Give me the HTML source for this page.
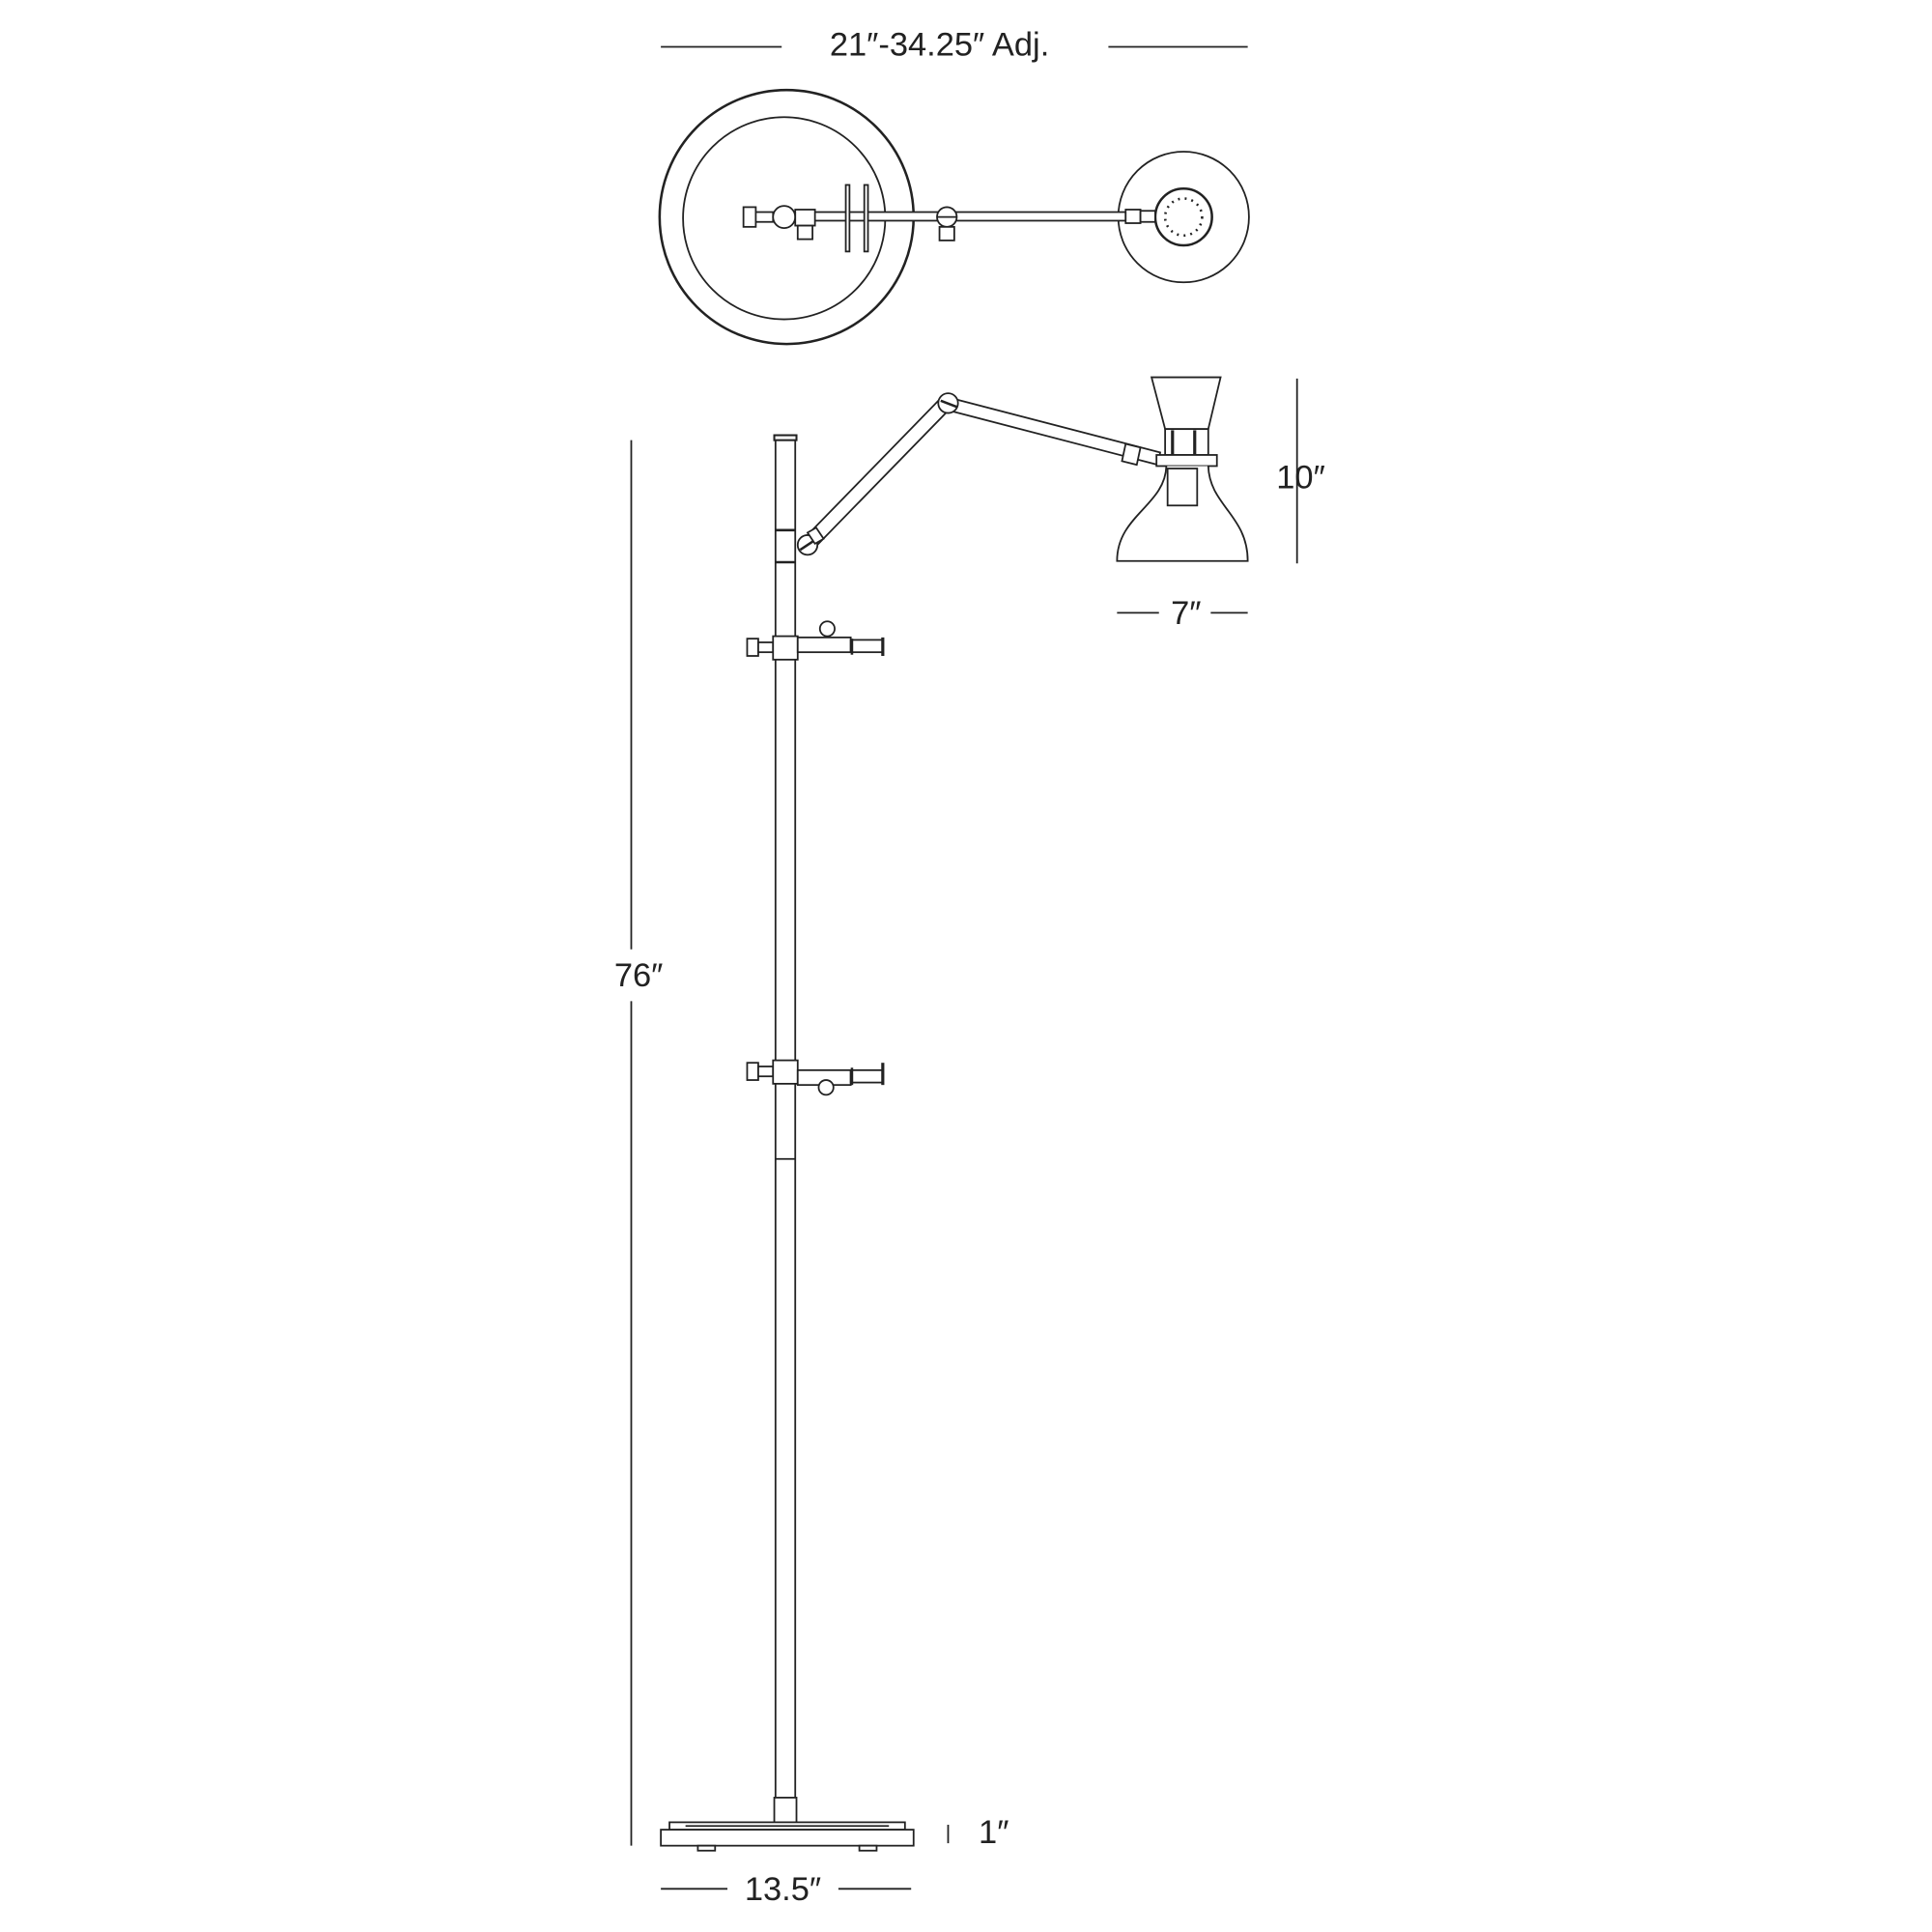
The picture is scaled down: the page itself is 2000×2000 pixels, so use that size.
<!DOCTYPE html>
<html><head><meta charset="utf-8"><style>html,body{margin:0;padding:0;background:#fff}svg{display:block}</style></head>
<body>
<svg width="2000" height="2000" viewBox="0 0 1567 1567" xmlns="http://www.w3.org/2000/svg" fill="none" stroke="#222" stroke-width="1.4">
<g font-family="Liberation Sans, sans-serif" font-size="27" fill="#222" stroke="none" text-anchor="middle">
<text x="762" y="45">21″-34.25″ Adj.</text>
<text x="518" y="800">76″</text>
<text x="1055" y="396">10″</text>
<text x="962" y="506">7″</text>
<text x="806" y="1495">1″</text>
<text x="635" y="1541">13.5″</text>
</g>
<line x1="536" y1="38" x2="634" y2="38"/><line x1="899" y1="38" x2="1012" y2="38"/>
<line x1="512" y1="357" x2="512" y2="770"/><line x1="512" y1="812" x2="512" y2="1497"/>
<line x1="1052" y1="307" x2="1052" y2="457"/>
<line x1="906" y1="497" x2="940" y2="497"/><line x1="982" y1="497" x2="1012" y2="497"/>
<line x1="769" y1="1480" x2="769" y2="1495"/>
<line x1="536" y1="1532" x2="590" y2="1532"/><line x1="680" y1="1532" x2="739" y2="1532"/>

<circle cx="638" cy="176" r="103" stroke-width="2"/>
<circle cx="636" cy="177" r="82"/>
<circle cx="960" cy="176" r="53"/>
<circle cx="960" cy="176" r="23" stroke-width="2"/>
<circle cx="960" cy="176" r="15" stroke-dasharray="1.5 4" stroke-width="2"/>
<rect x="660" y="172" width="253" height="7" fill="#fff"/>
<rect x="913" y="170" width="12" height="11" fill="#fff"/>
<rect x="925" y="171" width="12" height="9" fill="#fff"/>
<rect x="686" y="150" width="3" height="54" fill="#fff"/>
<rect x="701" y="150" width="3" height="54" fill="#fff"/>
<rect x="603" y="168" width="10" height="16" fill="#fff"/>
<rect x="613" y="172" width="14" height="8" fill="#fff"/>
<circle cx="636" cy="176" r="9" fill="#fff"/>
<rect x="645" y="170" width="16" height="13" fill="#fff"/>
<rect x="647" y="183" width="12" height="11" fill="#fff"/>
<circle cx="768" cy="176" r="8" fill="#fff"/>
<line x1="760" y1="176" x2="776" y2="176"/>
<rect x="762" y="184" width="12" height="11" fill="#fff"/>

<rect x="629" y="356" width="16" height="1102" fill="#fff"/>
<rect x="628" y="353" width="18" height="4" fill="#fff" stroke-width="1.6"/>
<line x1="629" y1="430" x2="645" y2="430" stroke-width="2"/>
<line x1="629" y1="456" x2="645" y2="456" stroke-width="2"/>
<line x1="629" y1="940" x2="645" y2="940"/>
<polygon points="651,438 763,323 771,331 659,446" fill="#fff"/>
<circle cx="655" cy="442" r="8" fill="#fff"/>
<line x1="649" y1="446" x2="661" y2="438" stroke-width="2"/>
<polygon points="655,432 662,428 668,437 661,441" fill="#fff"/>
<polygon points="768,322 941,367 939,377 766,332" fill="#fff"/>
<circle cx="769" cy="327" r="8" fill="#fff"/>
<line x1="763" y1="325" x2="776" y2="330" stroke-width="2"/>
<polygon points="913,360 925,363 922,377 910,374" fill="#fff"/>
<polygon points="934,306 990,306 980,348 945,348" fill="#fff"/>
<rect x="945" y="348" width="35" height="21" fill="#fff"/>
<line x1="951" y1="349" x2="951" y2="369" stroke-width="2.5"/>
<line x1="969" y1="349" x2="969" y2="369" stroke-width="2.5"/>
<rect x="938" y="369" width="49" height="9" fill="#fff"/>
<path d="M946,378 C945,410 906,418 906,455 L1012,455 C1012,418 981,410 980,378" fill="#fff"/>
<rect x="947" y="380" width="24" height="30" fill="#fff"/>
<rect x="606" y="518" width="9" height="14" fill="#fff"/>
<rect x="615" y="521" width="12" height="8" fill="#fff"/>
<rect x="627" y="516" width="20" height="19" fill="#fff"/>
<rect x="647" y="517" width="43" height="12" fill="#fff"/>
<rect x="690" y="519" width="26" height="10" fill="#fff"/>
<line x1="691" y1="518" x2="691" y2="531" stroke-width="2"/>
<line x1="716" y1="517" x2="716" y2="532" stroke-width="2.5"/>
<circle cx="671" cy="510" r="6" fill="#fff"/>
<rect x="606" y="862" width="9" height="14" fill="#fff"/>
<rect x="615" y="865" width="12" height="8" fill="#fff"/>
<rect x="627" y="860" width="20" height="19" fill="#fff"/>
<rect x="647" y="868" width="43" height="12" fill="#fff"/>
<rect x="690" y="868" width="26" height="10" fill="#fff"/>
<line x1="691" y1="866" x2="691" y2="880" stroke-width="2"/>
<line x1="716" y1="862" x2="716" y2="880" stroke-width="2.5"/>
<circle cx="670" cy="882" r="6" fill="#fff"/>
<rect x="628" y="1458" width="18" height="20" fill="#fff"/>
<rect x="543" y="1478" width="191" height="6" fill="#fff"/>
<line x1="556" y1="1481" x2="721" y2="1481"/>
<rect x="536" y="1484" width="205" height="13" fill="#fff"/>
<rect x="566" y="1497" width="14" height="4" fill="#fff"/>
<rect x="697" y="1497" width="14" height="4" fill="#fff"/>
</svg>
</body></html>
